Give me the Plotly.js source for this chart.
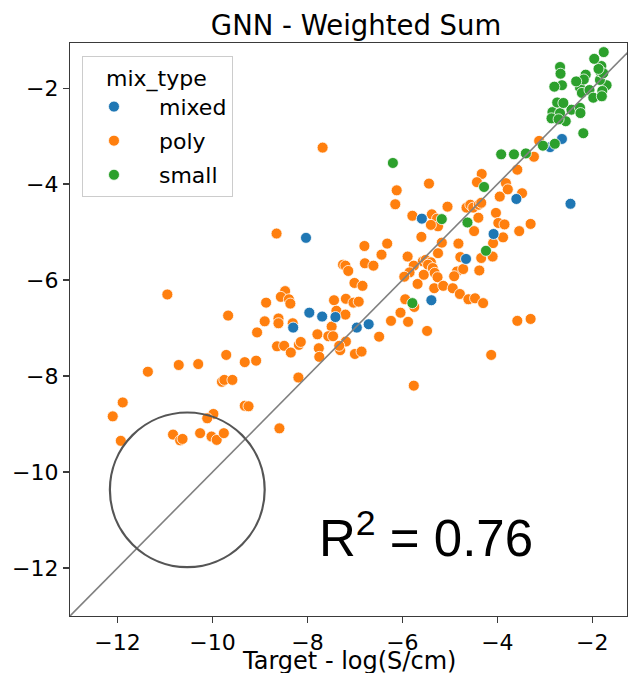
<!DOCTYPE html>
<html>
<head>
<meta charset="utf-8">
<script src="https://cdn.plot.ly/plotly-3.0.1.min.js"></script>
<style>html,body{margin:0;padding:0;background:#fff;}</style>
</head>
<body>
<div id="chart" style="width:628px;height:673px;"></div>
<script>
// ---- data ----
const seriesNames = ["mixed", "poly", "small"];
const seriesColors = ["#1f77b4", "#ff7f0e", "#2ca02c"];

const polyX = [-10.95,-8.87,-9.67,-8.90,-9.06,-9.71,-9.32,-9.08,-10.30,-10.71,-11.36,-9.80,-9.75,-9.58,-11.89,-12.10,-9.32,-9.24,-9.98,-10.11,-11.93,-10.83,-10.68,-10.63,-10.26,-10.02,-9.91,-9.76,-8.59,
-7.68,-5.44,-6.12,-6.15,-5.79,-5.38,-5.27,-5.25,-5.40,-5.05,-8.65,-5.60,-6.80,-6.32,-6.44,-5.89,-5.17,-5.25,-5.57,-5.51,-5.40,-5.46,-7.25,-7.20,-6.79,-6.61,-7.14,-5.76,-5.85,-5.96,-5.55,-5.36,-5.32,-5.26,-5.68,-7.01,-6.84,-5.33,-5.14,-8.47,-8.56,-8.39,-8.36,-7.44,-7.19,-7.03,-6.92,-5.94,-5.75,-7.39,-7.20,-8.61,-8.61,-8.31,-6.04,-6.24,-5.88,-5.48,-7.49,-7.79,-7.56,-7.46,-7.19,-6.49,-8.64,-8.49,-8.18,-8.14,-7.76,-8.35,-7.31,-7.33,-7.75,-7.00,-6.86,-8.19,-5.76,
-4.33,-4.43,-3.82,-3.78,-3.95,-4.65,-4.57,-4.51,-4.39,-4.34,-4.03,-4.40,-3.98,-3.85,-4.49,-3.88,-4.82,-4.09,-4.78,-4.34,-4.10,-4.85,-4.72,-4.91,-4.38,-4.94,-4.79,-4.61,-4.47,-4.30,-3.54,-3.58,-3.30,-4.13,-3.12,-3.23,-3.58,-3.48,-3.30];
const polyY = [-6.30,-6.47,-6.74,-6.86,-7.09,-7.56,-7.71,-7.68,-7.75,-7.77,-7.91,-8.12,-8.08,-8.08,-8.55,-8.84,-8.62,-8.63,-8.79,-8.88,-9.35,-9.22,-9.34,-9.31,-9.19,-9.26,-9.33,-9.19,-9.09,
-3.24,-3.99,-4.13,-4.42,-4.66,-4.63,-4.72,-4.88,-4.85,-4.47,-5.03,-5.10,-5.29,-5.24,-5.47,-5.51,-5.22,-5.44,-5.61,-5.58,-5.63,-5.68,-5.68,-5.70,-5.65,-5.70,-5.81,-5.70,-5.84,-5.93,-5.89,-5.75,-5.85,-5.94,-6.08,-6.06,-6.12,-6.17,-6.12,-6.23,-6.35,-6.40,-6.49,-6.42,-6.39,-6.47,-6.45,-6.40,-6.56,-6.64,-6.72,-6.80,-6.90,-6.90,-6.68,-6.85,-6.87,-7.06,-6.97,-7.13,-7.17,-7.17,-7.28,-7.18,-7.38,-7.37,-7.35,-7.29,-7.42,-7.51,-7.46,-7.37,-7.60,-7.54,-7.49,-8.03,-8.20,
-3.79,-3.96,-3.98,-4.11,-4.26,-4.49,-4.43,-4.49,-4.43,-4.39,-4.60,-4.70,-4.81,-4.84,-4.98,-5.11,-5.24,-5.23,-5.52,-5.54,-5.51,-5.82,-5.77,-5.92,-5.80,-6.17,-6.29,-6.40,-6.38,-6.48,-4.98,-6.85,-6.81,-7.56,-3.10,-3.43,-3.70,-4.19,-4.83];

const mixedX = [-8.03,-5.59,-5.39,-7.96,-7.69,-7.41,-8.30,-6.96,-6.71,-4.08,-4.66,-3.60,-2.46,-2.64,-2.89];
const mixedY = [-5.12,-4.72,-6.42,-6.68,-6.76,-6.77,-6.99,-6.99,-6.92,-5.04,-5.56,-4.31,-4.41,-3.06,-3.23];

const smallX = [-6.20,-5.79,-5.17,-4.63,-4.28,-4.24,-3.92,-3.65,-3.40,-3.04,-2.79,-2.19,-2.56,-2.84,-2.68,-2.86,-2.71,-2.44,-2.26,-2.25,-2.74,-2.61,-2.64,-2.80,-1.70,-2.26,-2.22,-2.06,-1.98,-1.79,-1.80,-1.84,-2.14,-2.18,-2.34,-2.68,-2.67,-1.81,-1.84,-1.77,-1.87,-1.96,-1.76];
const smallY = [-3.56,-6.48,-4.73,-4.80,-4.06,-5.39,-3.38,-3.38,-3.36,-3.20,-3.16,-2.94,-2.69,-2.50,-2.52,-2.63,-2.65,-2.45,-2.41,-2.52,-2.30,-2.31,-1.94,-1.97,-1.94,-1.99,-2.10,-2.04,-2.20,-2.06,-2.17,-1.83,-1.72,-1.82,-1.86,-1.56,-1.70,-1.54,-1.65,-1.69,-1.60,-1.39,-1.25];

// reference line y = x and highlighted circle (centre, radius)
const identityLine = [-14, 0];
const circleCenter = [-10.53, -10.37];
const circleRadius = [1.63, 1.61];
const r2Text = "R<sup>2</sup> = 0.76";
const legendTitle = "mix_type";
const xTitle = "Target - log(S/cm)";

const font = "DejaVu Sans, sans-serif";
const pad = "\u00a0\u00a0";

function scatterTrace(name, x, y, color, rank) {
  return {
    type: "scatter", mode: "markers", name: pad + name, x: x, y: y,
    legendrank: rank, legendgroup: name,
    marker: {color: color, size: 11, line: {color: "#ffffff", width: 0.8}},
    cliponaxis: true
  };
}

const traces = [
  scatterTrace(seriesNames[1], polyX, polyY, seriesColors[1], 2),
  scatterTrace(seriesNames[0], mixedX, mixedY, seriesColors[0], 1),
  scatterTrace(seriesNames[2], smallX, smallY, seriesColors[2], 3),
  {type: "scatter", mode: "lines", x: identityLine, y: identityLine, showlegend: false,
   line: {color: "#808080", width: 1.6}, hoverinfo: "skip"}
];

const axisCommon = {
  showgrid: false, zeroline: false, showline: true, mirror: true,
  linecolor: "#3a3a3a", linewidth: 1.2, ticks: "outside", ticklen: 6, tickwidth: 1.2,
  tickcolor: "#3a3a3a", tickfont: {family: font, size: 22, color: "#000"},
  tickvals: [-12, -10, -8, -6, -4, -2]
};

const layout = {
  width: 628, height: 673,
  margin: {l: 70, r: 1, t: 43, b: 57},
  paper_bgcolor: "#fff", plot_bgcolor: "#fff",
  title: {text: "GNN - Weighted Sum", font: {family: font, size: 27.5, color: "#000"},
          x: 0.567, xanchor: "center", y: 0.963, yanchor: "middle", xref: "container", yref: "container"},
  xaxis: Object.assign({}, axisCommon, {range: [-13, -1.27]}),
  yaxis: Object.assign({}, axisCommon, {range: [-13, -1.06]}),
  showlegend: true,
  legend: {
    x: 0.0215, y: 0.977, xanchor: "left", yanchor: "top",
    bgcolor: "rgba(255,255,255,0.8)", bordercolor: "#cccccc", borderwidth: 1,
    font: {family: font, size: 22, color: "#000"},
    title: {text: "\u00a0\u00a0\u00a0" + legendTitle, font: {family: font, size: 22, color: "#000"}, side: "top"},
    itemwidth: 52, tracegroupgap: 2.5
  },
  shapes: [{
    type: "circle", xref: "x", yref: "y",
    x0: circleCenter[0] - circleRadius[0], x1: circleCenter[0] + circleRadius[0],
    y0: circleCenter[1] - circleRadius[1], y1: circleCenter[1] + circleRadius[1],
    line: {color: "#555555", width: 2.2}, fillcolor: "rgba(0,0,0,0)"
  }],
  annotations: [
    {
      text: r2Text, xref: "x", yref: "y", x: -5.5, y: -11.31,
      xanchor: "center", yanchor: "middle", showarrow: false,
      font: {family: "Liberation Sans, Arial, sans-serif", size: 51, color: "#000"}
    },
    {
      // x-axis title, placed just below the tick labels
      text: xTitle, xref: "paper", yref: "paper", x: 0.5, y: -0.0505,
      xanchor: "center", yanchor: "top", showarrow: false,
      font: {family: font, size: 24, color: "#000"}
    }
  ]
};

Plotly.newPlot("chart", traces, layout, {displayModeBar: false, staticPlot: true});
</script>
</body>
</html>
